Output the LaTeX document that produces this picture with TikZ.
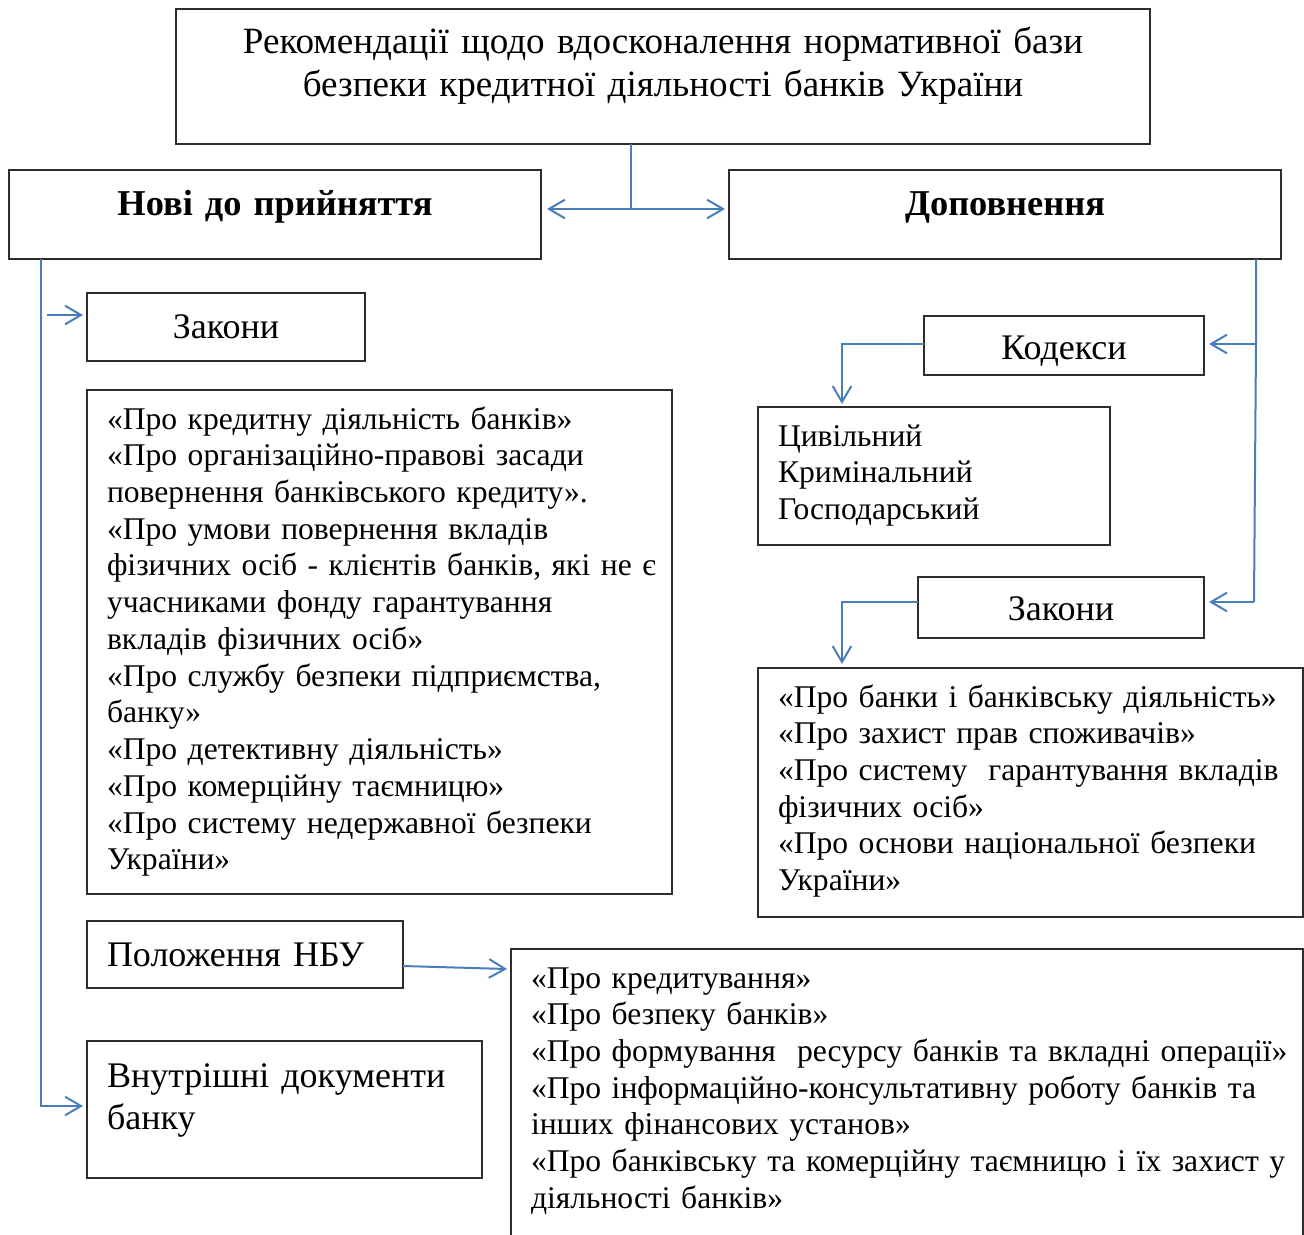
\documentclass[tikz,border=0pt]{standalone}
\usepackage{fontspec}
\setmainfont{Liberation Serif}
\usetikzlibrary{arrows.meta}
\definecolor{conncol}{RGB}{74,126,187}
\definecolor{boxcol}{RGB}{45,45,45}
\def\p{0.75pt}
\begin{document}
\begin{tikzpicture}[x=0.75pt,y=-0.75pt,
  box/.style={draw=boxcol,line width=1.1pt,inner sep=0pt,outer sep=0pt,anchor=north west},
  txt/.style={inner sep=0pt,outer sep=0pt,anchor=base west,align=left,text width=#1*\p},
  ctxt/.style={inner sep=0pt,outer sep=0pt,anchor=base,align=center,text width=#1*\p},
  bodyfont/.style={font=\fontsize{23.7}{27.56}\selectfont},
  headfont/.style={font=\fontsize{27}{31.5}\selectfont},
  boldfont/.style={font=\fontsize{27.3}{31.5}\selectfont\bfseries},
  titlefont/.style={font=\fontsize{27.8}{32.25}\selectfont},
  conn/.style={draw=conncol,line width=1.5pt},
  arr/.style={conn,-{Straight Barb[length=12pt,width=14pt]}},
]
\useasboundingbox (0,0) rectangle (1304,1235);
% boxes
\node[box,minimum width=974*\p,minimum height=135*\p] (title) at (176,9) {};
\node[box,minimum width=532*\p,minimum height=89*\p] (new) at (9,170) {};
\node[box,minimum width=552*\p,minimum height=89*\p] (dop) at (729,170) {};
\node[box,minimum width=278*\p,minimum height=68*\p] (zakL) at (87,293) {};
\node[box,minimum width=585*\p,minimum height=504*\p] (lawsL) at (87,390) {};
\node[box,minimum width=316*\p,minimum height=67*\p] (nbu) at (87,921) {};
\node[box,minimum width=395*\p,minimum height=137*\p] (vnutr) at (87,1041) {};
\node[box,minimum width=792*\p,minimum height=320*\p] (nbuL) at (511,949) {};
\node[box,minimum width=280*\p,minimum height=59*\p] (kod) at (924,316) {};
\node[box,minimum width=352*\p,minimum height=138*\p] (civ) at (758,407) {};
\node[box,minimum width=286*\p,minimum height=61*\p] (zakR) at (918,577) {};
\node[box,minimum width=545*\p,minimum height=249*\p] (lawsR) at (758,668) {};
% texts
\node[ctxt=974,titlefont] (titletxt) at (663,53) {Рекомендації щодо вдосконалення нормативної бази\\безпеки кредитної діяльності банків України};
\node[ctxt=532,boldfont] (newtxt) at (275,215) {Нові до прийняття};
\node[ctxt=552,boldfont] (doptxt) at (1005,215) {Доповнення};
\node[ctxt=278,headfont] (zakLtxt) at (226,338) {Закони};
\node[ctxt=280,headfont] (kodtxt) at (1064,359) {Кодекси};
\node[ctxt=286,headfont] (zakRtxt) at (1061,620) {Закони};
\node[txt=300,headfont] (nbutxt) at (107,966) {Положення НБУ};
\node[txt=380,headfont] (vnutrtxt) at (107,1087) {Внутрішні документи\\банку};
\node[txt=570,bodyfont] (lawsLtxt) at (107,429) {«Про кредитну діяльність банків»\\
«Про організаційно-правові засади\\
повернення банківського кредиту».\\
«Про умови повернення вкладів\\
фізичних осіб - клієнтів банків, які не є\\
учасниками фонду гарантування\\
вкладів фізичних осіб»\\
«Про службу безпеки підприємства,\\
банку»\\
«Про детективну діяльність»\\
«Про комерційну таємницю»\\
«Про систему недержавної безпеки\\
України»};
\node[txt=330,bodyfont] (civtxt) at (778,446) {Цивільний\\Кримінальний\\Господарський};
\node[txt=530,bodyfont] (lawsRtxt) at (778,707) {«Про банки і банківську діяльність»\\
«Про захист прав споживачів»\\
«Про систему\ \ гарантування вкладів\\
фізичних осіб»\\
«Про основи національної безпеки\\
України»};
\node[txt=780,bodyfont] (nbuLtxt) at (531,988) {«Про кредитування»\\
«Про безпеку банків»\\
«Про формування\ \ ресурсу банків та вкладні операції»\\
«Про інформаційно-консультативну роботу банків та\\
інших фінансових установ»\\
«Про банківську та комерційну таємницю і їх захист у\\
діяльності банків»};
% connector points
\coordinate (j) at (631,209);
\coordinate (lvtop) at (41,259);
\coordinate (lvbot) at (41,1106);
\coordinate (za) at (47,315);
\coordinate (na) at (403,966);
\coordinate (nb) at (507,969);
\coordinate (rvtop) at (1256,259);
\coordinate (rk) at (1256,344);
\coordinate (rz) at (1254,602);
\coordinate (kx) at (842,404);
\coordinate (kzy) at (918,602);
\coordinate (zx) at (842,664);
% connectors
\draw[conn] (title.south -| j) -- (j);
\draw[arr] (j) -- ([xshift=6*\p]new.east |- j);
\draw[arr] (j) -- ([xshift=-4*\p]dop.west |- j);
\draw[arr] (lvtop) -- (lvbot) -- ([xshift=-4*\p]vnutr.west |- lvbot);
\draw[arr] (za) -- ([xshift=-4*\p]zakL.west |- za);
\draw[arr] (na) -- (nb);
\draw[conn] (rvtop) -- (rk) -- (rz);
\draw[arr] (rk) -- ([xshift=5*\p]kod.east |- rk);
\draw[arr] (rz) -- ([xshift=5*\p]zakR.east |- rz);
\draw[arr] (kod.west |- 0,344) -| (kx);
\draw[arr] (kzy) -| (zx);
\end{tikzpicture}
\end{document}
